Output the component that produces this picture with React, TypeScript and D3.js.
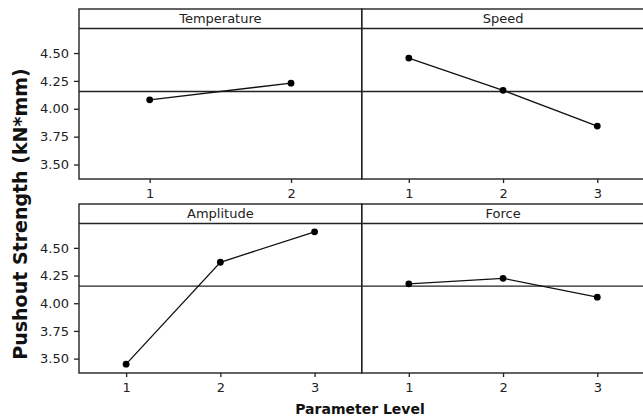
import React, { useEffect, useRef } from "react";
import * as d3 from "d3";

// main effects means per factor level
const factors = ["Temperature", "Speed", "Amplitude", "Force"];
const temperatureMeans = [4.08, 4.23];
const speedMeans = [4.455, 4.165, 3.845];
const amplitudeMeans = [3.45, 4.37, 4.645];
const forceMeans = [4.175, 4.225, 4.055];
const grandMean = 4.155;
const yTicks = [3.5, 3.75, 4.0, 4.25, 4.5];

const yTitle = "Pushout Strength (kN*mm)";
const xTitle = "Parameter Level";

const FONT = "'DejaVu Sans', Verdana, sans-serif";

export default function App() {
  const ref = useRef<SVGSVGElement>(null);

  useEffect(() => {
    const svg = d3.select(ref.current);
    svg.selectAll("*").remove();

    const cols = [79, 361.7, 644.4];
    const rows = [
      { top: 9, strip: 28.5, bottom: 179 },
      { top: 204, strip: 223.5, bottom: 373 },
    ];
    const series = [temperatureMeans, speedMeans, amplitudeMeans, forceMeans];
    const ink = "#222";

    series.forEach((vals, i) => {
      const r = rows[Math.floor(i / 2)];
      const c = i % 2;
      const x0 = cols[c];
      const x1 = cols[c + 1];
      const levels = vals.map((_, k) => k + 1);

      const x = d3
        .scaleLinear()
        .domain([0.5, vals.length + 0.5])
        .range([x0, x1]);
      const y = d3.scaleLinear().domain([3.37, 4.72]).range([r.bottom, r.strip]);

      const g = svg.append("g");

      // strip
      g.append("text")
        .attr("x", (x0 + x1) / 2)
        .attr("y", (r.top + r.strip) / 2)
        .attr("dy", "0.36em")
        .attr("text-anchor", "middle")
        .attr("font-family", FONT)
        .attr("font-size", 13)
        .attr("fill", ink)
        .text(factors[i]);

      // reference line (grand mean)
      g.append("line")
        .attr("x1", x0)
        .attr("x2", x1)
        .attr("y1", y(grandMean))
        .attr("y2", y(grandMean))
        .attr("stroke", ink)
        .attr("stroke-width", 1.3);

      // x axis
      const xa = g
        .append("g")
        .attr("transform", `translate(0,${r.bottom})`)
        .call(
          d3
            .axisBottom(x)
            .tickValues(levels)
            .tickFormat(d3.format("d"))
            .tickSize(4)
            .tickPadding(6)
        );
      xa.select(".domain").remove();
      xa.selectAll("line").attr("stroke", ink).attr("stroke-width", 1.3);
      xa.selectAll("text")
        .attr("font-family", FONT)
        .attr("font-size", 13)
        .attr("fill", ink);

      // y axis on the left column only
      if (c === 0) {
        const ya = g
          .append("g")
          .attr("transform", `translate(${x0},0)`)
          .call(
            d3
              .axisLeft(y)
              .tickValues(yTicks)
              .tickFormat(d3.format(".2f"))
              .tickSize(5)
              .tickPadding(5)
          );
        ya.select(".domain").remove();
        ya.selectAll("line").attr("stroke", ink).attr("stroke-width", 1.3);
        ya.selectAll("text")
          .attr("font-family", FONT)
          .attr("font-size", 13)
          .attr("fill", ink);
      }

      // data
      const line = d3
        .line<number>()
        .x((_, k) => x(k + 1))
        .y((d) => y(d));
      g.append("path")
        .datum(vals)
        .attr("fill", "none")
        .attr("stroke", "#111")
        .attr("stroke-width", 1.3)
        .attr("d", line);
      g.selectAll("circle")
        .data(vals)
        .join("circle")
        .attr("cx", (_, k) => x(k + 1))
        .attr("cy", (d) => y(d))
        .attr("r", 3.4)
        .attr("fill", "#000");

      // panel frame
      g.append("rect")
        .attr("x", x0)
        .attr("y", r.top)
        .attr("width", x1 - x0)
        .attr("height", r.bottom - r.top)
        .attr("fill", "none")
        .attr("stroke", ink)
        .attr("stroke-width", 1.4);
      g.append("line")
        .attr("x1", x0)
        .attr("x2", x1)
        .attr("y1", r.strip)
        .attr("y2", r.strip)
        .attr("stroke", ink)
        .attr("stroke-width", 1.4);
    });

    svg
      .append("text")
      .attr("transform", `translate(20,${(9 + 373) / 2 + 23}) rotate(-90)`)
      .attr("text-anchor", "middle")
      .attr("dy", "0.36em")
      .attr("font-family", FONT)
      .attr("font-weight", "bold")
      .attr("font-size", 19)
      .attr("fill", "#111")
      .text(yTitle);

    svg
      .append("text")
      .attr("x", 360)
      .attr("y", 409)
      .attr("dy", "0.36em")
      .attr("text-anchor", "middle")
      .attr("font-family", FONT)
      .attr("font-weight", "bold")
      .attr("font-size", 14)
      .attr("fill", "#111")
      .text(xTitle);
  }, []);

  return (
    <svg
      ref={ref}
      width={643}
      height={419}
      style={{ position: "absolute", left: 0, top: 0, background: "#fff" }}
    />
  );
}
